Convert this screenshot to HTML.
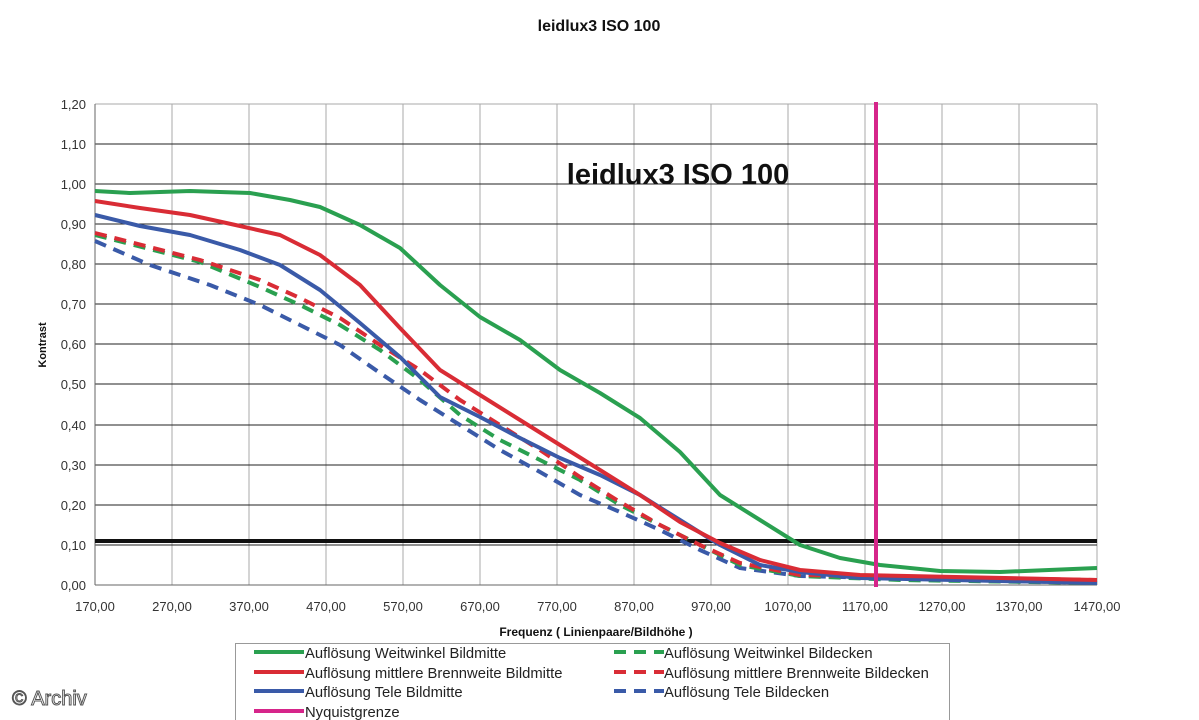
<!DOCTYPE html><html><head><style>body{margin:0;background:#fff}svg{display:block}text{font-family:"Liberation Sans",Arial,sans-serif}</style></head><body>
<svg width="1199" height="720" viewBox="0 0 1199 720">
<text x="599" y="31" font-size="16" font-weight="bold" text-anchor="middle" fill="#111">leidlux3 ISO 100</text>
<g stroke="#aaa" stroke-width="1">
<line x1="172" y1="104" x2="172" y2="585"/><line x1="249" y1="104" x2="249" y2="585"/><line x1="326" y1="104" x2="326" y2="585"/><line x1="403" y1="104" x2="403" y2="585"/><line x1="480" y1="104" x2="480" y2="585"/><line x1="557" y1="104" x2="557" y2="585"/><line x1="634" y1="104" x2="634" y2="585"/><line x1="711" y1="104" x2="711" y2="585"/><line x1="788" y1="104" x2="788" y2="585"/><line x1="865" y1="104" x2="865" y2="585"/><line x1="942" y1="104" x2="942" y2="585"/><line x1="1019" y1="104" x2="1019" y2="585"/><line x1="1097" y1="104" x2="1097" y2="585"/>
<line x1="95" y1="104" x2="1097" y2="104"/>
</g>
<g stroke="#222" stroke-width="1">
<line x1="95" y1="144" x2="1097" y2="144"/><line x1="95" y1="184" x2="1097" y2="184"/><line x1="95" y1="224" x2="1097" y2="224"/><line x1="95" y1="264" x2="1097" y2="264"/><line x1="95" y1="304" x2="1097" y2="304"/><line x1="95" y1="344" x2="1097" y2="344"/><line x1="95" y1="384" x2="1097" y2="384"/><line x1="95" y1="425" x2="1097" y2="425"/><line x1="95" y1="465" x2="1097" y2="465"/><line x1="95" y1="505" x2="1097" y2="505"/><line x1="95" y1="545" x2="1097" y2="545"/>
</g>
<line x1="95" y1="104" x2="95" y2="585" stroke="#666"/><line x1="95" y1="585" x2="1097" y2="585" stroke="#666"/>
<g font-size="13" fill="#333" text-anchor="end">
<text x="86" y="109">1,20</text><text x="86" y="149">1,10</text><text x="86" y="189">1,00</text><text x="86" y="229">0,90</text><text x="86" y="269">0,80</text><text x="86" y="309">0,70</text><text x="86" y="349">0,60</text><text x="86" y="389">0,50</text><text x="86" y="430">0,40</text><text x="86" y="470">0,30</text><text x="86" y="510">0,20</text><text x="86" y="550">0,10</text><text x="86" y="590">0,00</text>
</g>
<g font-size="13" fill="#333" text-anchor="middle">
<text x="95" y="611">170,00</text><text x="172" y="611">270,00</text><text x="249" y="611">370,00</text><text x="326" y="611">470,00</text><text x="403" y="611">570,00</text><text x="480" y="611">670,00</text><text x="557" y="611">770,00</text><text x="634" y="611">870,00</text><text x="711" y="611">970,00</text><text x="788" y="611">1070,00</text><text x="865" y="611">1170,00</text><text x="942" y="611">1270,00</text><text x="1019" y="611">1370,00</text><text x="1097" y="611">1470,00</text>
</g>
<text x="596" y="636" font-size="12" font-weight="bold" text-anchor="middle" fill="#111">Frequenz ( Linienpaare/Bildhöhe )</text>
<text transform="translate(46,345) rotate(-90)" font-size="11" font-weight="bold" text-anchor="middle" fill="#111">Kontrast</text>
<text x="678" y="184" font-size="29" font-weight="bold" text-anchor="middle" fill="#111">leidlux3 ISO 100</text>
<line x1="95" y1="541" x2="1097" y2="541" stroke="#111" stroke-width="4"/>
<g fill="none" stroke-width="4" stroke-linejoin="round">
<polyline stroke="#3a5aa8" stroke-dasharray="12,8" points="95,241 150,265 210,285 260,305 300,325 340,345 380,373 420,400 460,425 500,450 540,472 580,495 620,512 660,530 700,550 740,568 800,576 1097,583"/>
<polyline stroke="#2aa050" stroke-dasharray="12,8" points="95,235 200,262 260,287 300,305 340,325 380,350 420,380 460,415 500,440 540,460 580,480 620,505 660,525 700,545 740,565 800,576 900,580 1097,583"/>
<polyline stroke="#d92c35" stroke-dasharray="12,8" points="95,233 200,260 260,280 300,298 340,318 380,345 420,370 460,400 500,425 540,450 580,477 620,502 660,525 700,545 740,563 800,575 1097,580"/>
<polyline stroke="#3a5aa8" points="95,215 140,226 190,235 240,250 280,265 320,290 360,323 400,357 440,397 480,417 520,438 560,458 600,475 640,495 680,520 720,545 760,565 800,572 860,578 1097,583"/>
<polyline stroke="#d92c35" points="95,201 140,208 190,215 240,226 280,235 320,255 360,285 400,328 440,370 480,395 520,420 560,445 600,470 640,495 680,522 720,543 760,560 800,570 860,575 1097,580"/>
<polyline stroke="#2aa050" points="95,191 130,193 190,191 250,193 290,200 320,207 360,225 400,248 440,285 480,317 520,340 560,370 600,393 640,418 680,452 720,495 760,520 800,545 840,558 880,565 940,571 1000,572 1097,568"/>
</g>
<line x1="876" y1="102" x2="876" y2="587" stroke="#d6258a" stroke-width="4"/>
<rect x="235.5" y="643.5" width="714" height="80" fill="#fff" stroke="#999"/>
<g stroke-width="4">
<line x1="254" y1="652" x2="304" y2="652" stroke="#2aa050"/><line x1="254" y1="672" x2="304" y2="672" stroke="#d92c35"/><line x1="254" y1="691" x2="304" y2="691" stroke="#3a5aa8"/><line x1="254" y1="711" x2="304" y2="711" stroke="#d6258a"/>
<line x1="614" y1="652" x2="664" y2="652" stroke="#2aa050" stroke-dasharray="12,8"/><line x1="614" y1="672" x2="664" y2="672" stroke="#d92c35" stroke-dasharray="12,8"/><line x1="614" y1="691" x2="664" y2="691" stroke="#3a5aa8" stroke-dasharray="12,8"/>
</g>
<g font-size="14.8" fill="#222">
<text x="305" y="658">Auflösung Weitwinkel Bildmitte</text><text x="305" y="678">Auflösung mittlere Brennweite Bildmitte</text><text x="305" y="697">Auflösung Tele Bildmitte</text><text x="305" y="717">Nyquistgrenze</text>
<text x="664" y="658">Auflösung Weitwinkel Bildecken</text><text x="664" y="678">Auflösung mittlere Brennweite Bildecken</text><text x="664" y="697">Auflösung Tele Bildecken</text>
</g>
<text x="12" y="705" font-size="20" fill="#fff" stroke="#555" stroke-width="1">© Archiv</text>
</svg></body></html>
